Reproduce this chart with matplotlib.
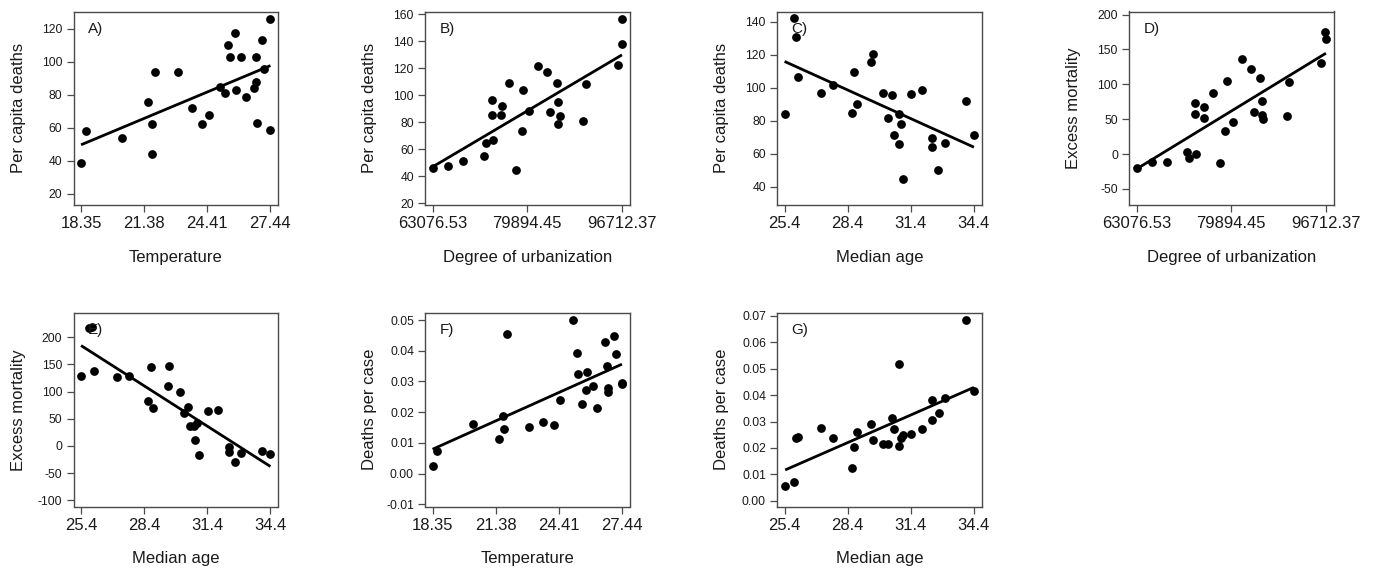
import numpy as np
import matplotlib
matplotlib.use("Agg")
import matplotlib.pyplot as plt

plt.rcParams["font.family"] = ["Liberation Sans", "DejaVu Sans"]

# A) temperature vs per capita deaths
temp_a = [18.35, 18.59, 20.33, 21.55, 21.76, 21.76, 21.89, 22.98, 23.66, 24.15, 24.49, 25.04, 25.28, 25.38,
          25.52, 25.75, 25.79, 26.05, 26.26, 26.63, 26.73, 26.76, 26.78, 27.05, 27.15, 27.42, 27.44]
deaths_a = [38.7, 58.3, 53.7, 75.4, 62.2, 43.9, 94.0, 94.0, 72.1, 62.0, 67.9, 84.5, 80.9, 110.3,
            102.6, 117.2, 82.7, 102.6, 78.8, 84.3, 88.0, 102.8, 62.6, 113.1, 95.5, 125.9, 58.7]

# B) urbanization vs per capita deaths
urb_b = [63076.53, 65755, 68553, 72184, 72541, 73613, 73613, 73851, 75339, 75280, 76589, 77899, 78911, 79089,
         80160, 81827, 83434, 83970, 85101, 85339, 85339, 85696, 89863, 90399, 95935, 96649, 96712.37]
deaths_b = [46.4, 47.8, 51.5, 55.0, 64.9, 96.7, 85.1, 66.8, 92.2, 85.8, 109.0, 44.6, 73.5, 104.0,
            88.3, 121.8, 117.4, 87.3, 109.2, 95.4, 78.4, 84.8, 80.9, 108.7, 122.8, 138.1, 156.3]

# C) median age vs per capita deaths
age_c = [25.4, 25.83, 25.93, 26.02, 27.12, 27.71, 28.62, 28.71, 28.84, 29.49, 29.62, 30.10, 30.31, 30.51,
         30.61, 30.82, 30.83, 30.93, 31.02, 31.41, 31.91, 32.40, 32.40, 32.69, 33.03, 34.02, 34.4]
deaths_c = [84.0, 142.0, 130.5, 106.7, 97.0, 101.9, 84.6, 109.2, 89.9, 115.5, 120.1, 97.0, 81.6, 95.4,
            71.4, 84.2, 66.2, 78.3, 44.7, 96.2, 98.4, 69.4, 64.3, 50.1, 66.8, 92.1, 71.2]

# D) urbanization vs excess mortality
urb_d = [63076.53, 65810, 68425, 71991, 72466, 73417, 73477, 73655, 75141, 75022, 76567, 77874, 78766, 79122,
         80132, 81796, 83342, 83936, 85065, 85303, 85303, 85600, 89820, 90236, 95882, 96595, 96712.37]
excess_d = [-20.1, -11.9, -11.9, 3.1, -5.6, 73.1, 57.6, -0.1, 66.8, 51.8, 87.1, -12.4, 33.0, 104.9,
            46.0, 135.8, 121.3, 59.6, 109.7, 75.5, 56.2, 49.9, 55.2, 103.0, 131.0, 175.4, 164.3]

# E) median age vs excess mortality
age_e = [25.4, 25.80, 25.91, 26.02, 27.10, 27.69, 28.60, 28.71, 28.82, 29.51, 29.60, 30.11, 30.27, 30.50,
         30.59, 30.77, 30.81, 30.93, 31.02, 31.42, 31.91, 32.41, 32.42, 32.71, 33.01, 34.02, 34.4]
excess_e = [129.6, 217.1, 219.6, 138.2, 126.5, 129.6, 83.0, 145.5, 70.2, 111.2, 146.7, 99.6, 59.8, 72.0,
            36.5, 36.5, 10.2, 41.4, -17.4, 64.1, 65.3, -2.1, -11.3, -29.0, -12.5, -8.8, -15.6]

# F) temperature vs deaths per case
temp_f = [18.35, 18.58, 20.30, 21.56, 21.73, 21.77, 21.91, 22.96, 23.67, 24.17, 24.49, 25.09, 25.28, 25.35,
          25.54, 25.76, 25.73, 26.05, 26.25, 26.64, 26.70, 26.77, 26.75, 27.06, 27.15, 27.42, 27.44]
cfr_f = [0.0025, 0.0073, 0.0160, 0.0112, 0.0188, 0.0144, 0.0456, 0.0153, 0.0168, 0.0157, 0.0240, 0.0500, 0.0394, 0.0324,
         0.0226, 0.0330, 0.0273, 0.0285, 0.0215, 0.0429, 0.0352, 0.0278, 0.0266, 0.0447, 0.0389, 0.0292, 0.0295]

# G) median age vs deaths per case
age_g = [25.43, 25.83, 25.93, 26.04, 27.14, 27.71, 28.62, 28.71, 28.82, 29.49, 29.60, 30.10, 30.31, 30.51,
         30.62, 30.82, 30.83, 30.94, 31.01, 31.41, 31.92, 32.41, 32.41, 32.73, 33.03, 34.02, 34.4]
cfr_g = [0.0058, 0.0071, 0.0238, 0.0240, 0.0274, 0.0239, 0.0123, 0.0203, 0.0260, 0.0291, 0.0230, 0.0216, 0.0216, 0.0313,
         0.0270, 0.0519, 0.0206, 0.0236, 0.0250, 0.0253, 0.0273, 0.0381, 0.0304, 0.0331, 0.0388, 0.0684, 0.0414]

temp_ticks = [18.35, 21.38, 24.41, 27.44]
temp_labels = ["18.35", "21.38", "24.41", "27.44"]
urb_ticks = [63076.53, 79894.45, 96712.37]
urb_labels = ["63076.53", "79894.45", "96712.37"]
age_ticks = [25.4, 28.4, 31.4, 34.4]
age_labels = ["25.4", "28.4", "31.4", "34.4"]

panels = [
    ("A)", temp_a, deaths_a, "Temperature", "Per capita deaths", temp_ticks, temp_labels,
     [20, 40, 60, 80, 100, 120], (13.1, 130.5)),
    ("B)", urb_b, deaths_b, "Degree of urbanization", "Per capita deaths", urb_ticks, urb_labels,
     [20, 40, 60, 80, 100, 120, 140, 160], (18.7, 162.2)),
    ("C)", age_c, deaths_c, "Median age", "Per capita deaths", age_ticks, age_labels,
     [40, 60, 80, 100, 120, 140], (29.0, 146.1)),
    ("D)", urb_d, excess_d, "Degree of urbanization", "Excess mortality", urb_ticks, urb_labels,
     [-50, 0, 50, 100, 150, 200], (-73.0, 204.3)),
    ("E)", age_e, excess_e, "Median age", "Excess mortality", age_ticks, age_labels,
     [-100, -50, 0, 50, 100, 150, 200], (-111.6, 244.8)),
    ("F)", temp_f, cfr_f, "Temperature", "Deaths per case", temp_ticks, temp_labels,
     [-0.01, 0.0, 0.01, 0.02, 0.03, 0.04, 0.05], (-0.0107, 0.0523)),
    ("G)", age_g, cfr_g, "Median age", "Deaths per case", age_ticks, age_labels,
     [0.0, 0.01, 0.02, 0.03, 0.04, 0.05, 0.06, 0.07], (-0.0021, 0.0710)),
]

W, H = 1375, 569
fig = plt.figure(figsize=(W / 100, H / 100), dpi=100)

col_left = [73.5, 425, 777, 1129]
row_top = [11.5, 313]
box_w, box_h = 204.5, 193.5
frame = "#4a4a4a"

for i, (tag, x, y, xlab, ylab, xt, xtl, yt, ylim) in enumerate(panels):
    r, c = divmod(i, 4)
    ax = fig.add_axes([col_left[c] / W, 1 - (row_top[r] + box_h) / H, box_w / W, box_h / H])
    x = np.array(x)
    y = np.array(y)
    ax.plot(x, y, "o", color="black", ms=6.3, mew=0)
    slope, inter = np.polyfit(x, y, 1)
    xs = np.array([x.min(), x.max()])
    ax.plot(xs, inter + slope * xs, color="black", lw=2.0, solid_capstyle="butt")

    span = xt[-1] - xt[0]
    ax.set_xlim(xt[0] - 0.04 * span, xt[-1] + 0.04 * span)
    ax.set_ylim(*ylim)
    ax.set_xticks(xt)
    ax.set_xticklabels(xtl, fontsize=12)
    ax.set_yticks(yt)
    if any(isinstance(v, float) for v in yt):
        ax.set_yticklabels([f"{v:.2f}" for v in yt], fontsize=8.7)
    else:
        ax.set_yticklabels([str(v) for v in yt], fontsize=8.7)
    ax.tick_params(axis="both", direction="out", length=5, width=0.9, color=frame, colors="#1a1a1a")
    ax.tick_params(axis="x", pad=3)
    ax.tick_params(axis="y", pad=3)
    for s in ax.spines.values():
        s.set_color(frame)
        s.set_linewidth(1.0)

    ax.set_xlabel(xlab, fontsize=12, color="#1a1a1a", va="center")
    ax.xaxis.set_label_coords(0.5, -0.27)
    ax.set_ylabel(ylab, fontsize=12, color="#1a1a1a", va="center")
    ax.yaxis.set_label_coords(-0.27, 0.5)
    ax.text(0.07, 0.91, tag, transform=ax.transAxes, fontsize=11, ha="left", va="center", color="#1a1a1a")

fig.savefig("out.png", dpi=100)
